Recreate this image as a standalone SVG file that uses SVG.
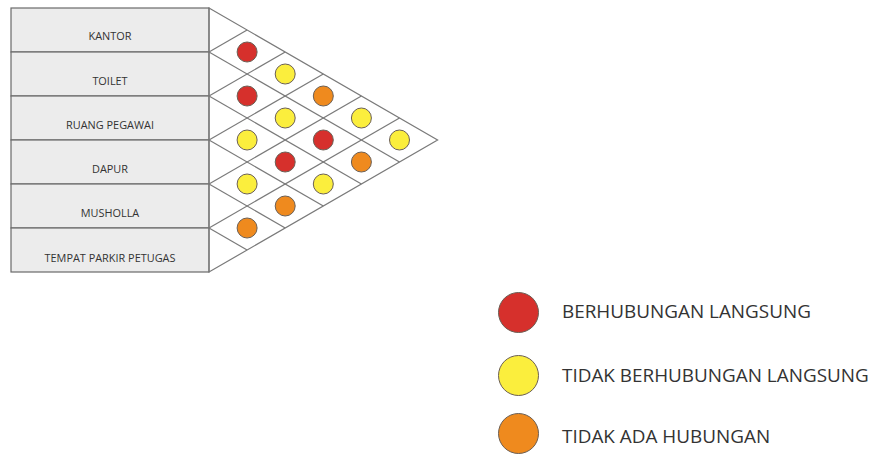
<svg xmlns="http://www.w3.org/2000/svg" width="873" height="455" viewBox="0 0 873 455">
  <style>
    .row { fill: #ececec; stroke: #6a6a6a; stroke-width: 1.2; }
    .lbl { font-family: "Open Sans", "Liberation Sans", sans-serif; font-size: 10.9px; fill: #333; text-anchor: middle; }
    .grid { stroke: #7a7a7a; stroke-width: 1.2; fill: none; }
    .dot { stroke: #6b5f55; stroke-width: 1; }
    .red { fill: #d6302c; }
    .yel { fill: #fbee3d; }
    .org { fill: #ef8a1e; }
    .leg { font-family: "Open Sans", "Liberation Sans", sans-serif; font-size: 18.9px; fill: #333; }
  </style>

  <!-- room list -->
  <g id="kantor"><rect class="row" x="11" y="8" width="198" height="44"/><text class="lbl" x="110" y="40">KANTOR</text></g>
  <g id="toilet"><rect class="row" x="11" y="52" width="198" height="44"/><text class="lbl" x="110" y="85">TOILET</text></g>
  <g id="ruang-pegawai"><rect class="row" x="11" y="96" width="198" height="44"/><text class="lbl" x="110" y="129">RUANG PEGAWAI</text></g>
  <g id="dapur"><rect class="row" x="11" y="140" width="198" height="44"/><text class="lbl" x="110" y="173">DAPUR</text></g>
  <g id="musholla"><rect class="row" x="11" y="184" width="198" height="44"/><text class="lbl" x="110" y="217">MUSHOLLA</text></g>
  <g id="tempat-parkir"><rect class="row" x="11" y="228" width="198" height="44"/><text class="lbl" x="110" y="262">TEMPAT PARKIR PETUGAS</text></g>

  <!-- relationship matrix grid -->
  <g id="connectors" class="grid">
    <polygon points="209,8 437.6,140 209,272"/>
    <line x1="209" y1="52" x2="247.1" y2="30"/>
    <line x1="209" y1="52" x2="399.5" y2="162"/>
    <line x1="209" y1="96" x2="285.2" y2="52"/>
    <line x1="209" y1="96" x2="361.4" y2="184"/>
    <line x1="209" y1="140" x2="323.3" y2="74"/>
    <line x1="209" y1="140" x2="323.3" y2="206"/>
    <line x1="209" y1="184" x2="361.4" y2="96"/>
    <line x1="209" y1="184" x2="285.2" y2="228"/>
    <line x1="209" y1="228" x2="399.5" y2="118"/>
    <line x1="209" y1="228" x2="247.1" y2="250"/>
  </g>

  <!-- relationship markers -->
  <g id="matrix">
    <circle class="dot red" cx="247.1" cy="52" r="10"/>
    <circle class="dot yel" cx="285.2" cy="74" r="10"/>
    <circle class="dot red" cx="247.1" cy="96" r="10"/>
    <circle class="dot org" cx="323.3" cy="96" r="10"/>
    <circle class="dot yel" cx="285.2" cy="118" r="10"/>
    <circle class="dot yel" cx="361.4" cy="118" r="10"/>
    <circle class="dot yel" cx="247.1" cy="140" r="10"/>
    <circle class="dot red" cx="323.3" cy="140" r="10"/>
    <circle class="dot yel" cx="399.5" cy="140" r="10"/>
    <circle class="dot red" cx="285.2" cy="162" r="10"/>
    <circle class="dot org" cx="361.4" cy="162" r="10"/>
    <circle class="dot yel" cx="247.1" cy="184" r="10"/>
    <circle class="dot yel" cx="323.3" cy="184" r="10"/>
    <circle class="dot org" cx="285.2" cy="206" r="10"/>
    <circle class="dot org" cx="247.1" cy="228" r="10"/>
  </g>

  <!-- legend -->
  <g id="legend-langsung"><circle class="dot red" cx="518.5" cy="312.5" r="20"/><text class="leg" x="562" y="317.5">BERHUBUNGAN LANGSUNG</text></g>
  <g id="legend-tidak-langsung"><circle class="dot yel" cx="518.5" cy="375.5" r="20"/><text class="leg" x="562" y="382">TIDAK BERHUBUNGAN LANGSUNG</text></g>
  <g id="legend-tidak-ada"><circle class="dot org" cx="518.5" cy="433.5" r="20"/><text class="leg" x="562" y="443">TIDAK ADA HUBUNGAN</text></g>
</svg>
